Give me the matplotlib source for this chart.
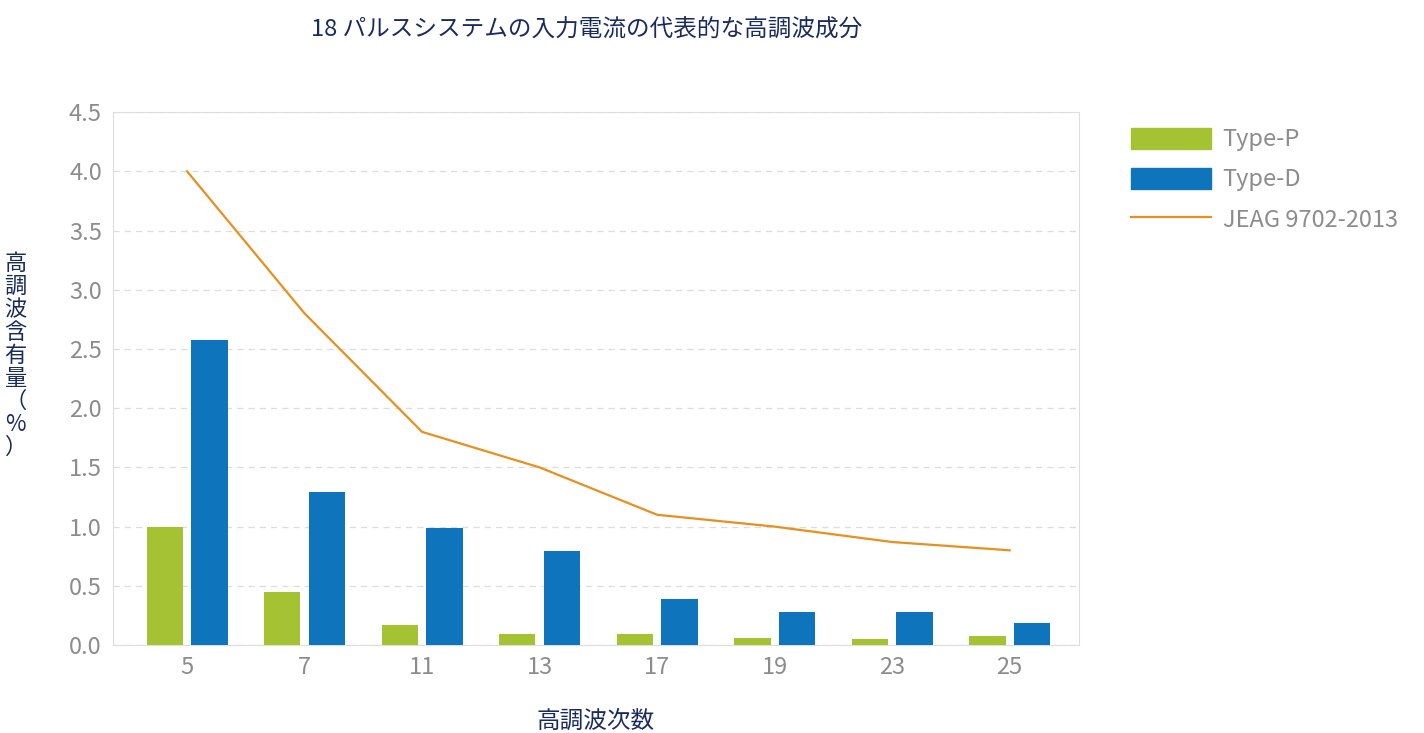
import matplotlib.pyplot as plt
import matplotlib.patches as mpatches
from matplotlib.lines import Line2D
import numpy as np

plt.rcParams['font.family'] = 'Noto Sans CJK JP'

orders = ['5', '7', '11', '13', '17', '19', '23', '25']
type_p = [1.0, 0.45, 0.17, 0.09, 0.09, 0.06, 0.05, 0.08]
type_d = [2.58, 1.29, 0.99, 0.79, 0.39, 0.28, 0.28, 0.19]
jeag = [4.0, 2.8, 1.8, 1.5, 1.1, 1.0, 0.87, 0.8]

green = '#a4c232'
blue = '#0e74bb'
orange = '#e8901e'
navy = '#1a2b5e'
gray = '#8c8c8c'

fig = plt.figure(figsize=(14.24, 7.33), dpi=100)
ax = fig.add_axes([0.0794, 0.12, 0.6783, 0.727])

x = np.arange(len(orders))
w = 0.31
ax.bar(x - 0.19, type_p, w, color=green, zorder=3)
ax.bar(x + 0.19, type_d, w, color=blue, zorder=3)
ax.plot(x, jeag, color=orange, lw=1.6, zorder=4)

ax.set_xlim(-0.63, 7.59)
ax.set_ylim(0, 4.5)
ax.set_yticks(np.arange(0, 4.51, 0.5))
ax.set_yticklabels(['%.1f' % v for v in np.arange(0, 4.51, 0.5)])
ax.set_xticks(x)
ax.set_xticklabels(orders)
ax.tick_params(colors=gray, labelsize=17, length=0, pad=8)
ax.grid(axis='y', color='#dddddd', ls=(0, (5, 4)), lw=0.9, zorder=0)
for s in ax.spines.values():
    s.set_color('#dddddd')

ax.set_xlabel('高調波次数', color=navy, fontsize=17, labelpad=22)
# vertical stacked y label, upright characters
fig.text(0.011, 0.515, '\n'.join('高調波含有量') + '\n（\n%\n）', color=navy,
         fontsize=16, ha='center', va='center', linespacing=1.0)
fig.text(0.412, 0.975, '18 パルスシステムの入力電流の代表的な高調波成分',
         color=navy, fontsize=17, ha='center', va='top')

handles = [mpatches.Patch(color=green, label='Type-P'),
           mpatches.Patch(color=blue, label='Type-D'),
           Line2D([0], [0], color=orange, lw=1.6, label='JEAG 9702-2013')]
leg = fig.legend(handles=handles, loc='upper left', bbox_to_anchor=(0.779, 0.855),
                 frameon=False, fontsize=17, labelspacing=0.7,
                 handlelength=3.4, handleheight=1.0, handletextpad=0.5)
for t in leg.get_texts():
    t.set_color(gray)

fig.savefig('out.png', dpi=100)
